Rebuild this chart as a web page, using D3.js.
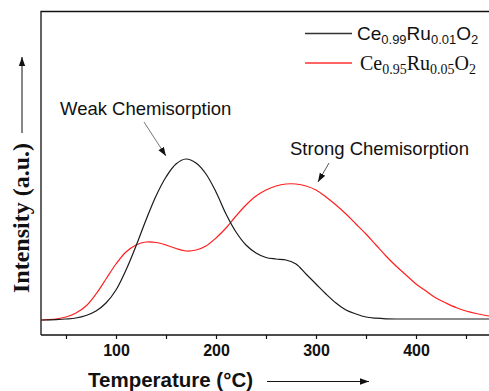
<!DOCTYPE html>
<html><head><meta charset="utf-8">
<script src="https://cdn.jsdelivr.net/npm/d3@7"></script>
<style>html,body{margin:0;padding:0;background:#fff;}svg{display:block;}</style>
</head><body>
<script>
// Temperatures (°C)
const temps = [25,30,40,50,60,70,80,90,100,110,120,130,140,150,160,170,180,190,200,210,220,230,240,250,260,270,280,290,300,310,320,330,340,350,360,370,380,390,400,410,420,430,440,450,460,470,480,490,500];
// Intensity (a.u.), Ce0.99Ru0.01O2
const seriesA = [0,0,0.4,1,2,4.5,9,17,30,50,74,100,124,143,156,161,157,146,128,106,88,75,67,62.5,61,60,56,46,36,26,17,10,6,3,1.8,1.2,1,1,1,1,1,1,1,1,1,1,1,1,1];
// Intensity (a.u.), Ce0.95Ru0.05O2
const seriesB = [0,0.3,1,3,7,14,26,41,56,68,75,78,77.5,75,71.5,69,70,74,82,92,104,115,124,130,134,136,136,134,130,123,115,106,96,86,75,64,54,45,36,29,22,17,12.5,9,6.5,4.5,3,2,1.5];
const xTicks = [50,100,150,200,250,300,350,400,450,500];
const xLabels = [100,200,300,400];

const W = 489, H = 391;
const svg = d3.select("body").append("svg").attr("width", W).attr("height", H);

const x = d3.scaleLinear().domain([25, 500]).range([41, 516]);
const y = d3.scaleLinear().domain([-15, 309]).range([335, 11]);

svg.append("defs").append("marker")
  .attr("id","ah").attr("viewBox","0 0 10 10").attr("refX",10).attr("refY",5)
  .attr("markerWidth",9).attr("markerHeight",9).attr("markerUnits","userSpaceOnUse")
  .attr("orient","auto")
  .append("path").attr("d","M0,1.5 L10,5 L0,8.5 Z").attr("fill","#111");

// frame (left and top)
svg.append("path").attr("d", `M41,335 L41,11.5 L489,11.5`).attr("fill","none").attr("stroke","#111").attr("stroke-width",1.3);

// x axis
const ax = svg.append("g").attr("transform","translate(0,335)")
  .call(d3.axisBottom(x).tickValues(xTicks).tickSize(4)
    .tickFormat(d => xLabels.includes(d) ? d : ""));
ax.select(".domain").attr("d","M41,0H489").attr("stroke","#111").attr("stroke-width",1.3);
ax.selectAll(".tick line").attr("stroke","#111").attr("stroke-width",1.2);
ax.selectAll(".tick text").attr("y",10).attr("dy","0.71em")
  .style("font-family","'Liberation Sans', Arial, sans-serif").style("font-weight","bold").style("font-size","16px").attr("fill","#111");

const line = d3.line().x((d,i)=>x(temps[i])).y(d=>y(d)).curve(d3.curveCatmullRom.alpha(0.5));
svg.append("clipPath").attr("id","pc").append("rect").attr("x",41).attr("y",11).attr("width",448).attr("height",324);
const g = svg.append("g").attr("clip-path","url(#pc)");
g.append("path").attr("d", line(seriesB)).attr("fill","none").attr("stroke","#ff1f1f").attr("stroke-width",1.2);
g.append("path").attr("d", line(seriesA)).attr("fill","none").attr("stroke","#1a1a1a").attr("stroke-width",1.2);

// legend
const sans = "'Liberation Sans', Arial, sans-serif", serif = "'Liberation Serif', 'Times New Roman', serif";
svg.append("line").attr("x1",305).attr("x2",352).attr("y1",33.5).attr("y2",33.5).attr("stroke","#333").attr("stroke-width",1.4);
svg.append("line").attr("x1",305).attr("x2",352).attr("y1",63).attr("y2",63).attr("stroke","#ff3030").attr("stroke-width",1.4);
function formula(xp, yp, parts, fam, big, small) {
  const t = svg.append("text").attr("x",xp).attr("y",yp).style("font-family",fam).attr("fill","#111").style("font-size",big+"px");
  parts.forEach(p => {
    t.append("tspan").text(p[0]).style("font-size",(p[1]?small:big)+"px")
      .attr("dy", p[1] ? 4 : (p[2] ? -4 : 0));
  });
}
formula(357, 39.5, [["Ce",0],["0.99",1],["Ru",0,1],["0.01",1],["O",0,1],["2",1]], sans, 19, 13);
formula(360, 70, [["Ce",0],["0.95",1],["Ru",0,1],["0.05",1],["O",0,1],["2",1]], serif, 20, 14);

// annotations
svg.append("text").attr("x",60).attr("y",115).text("Weak Chemisorption")
  .style("font-family",sans).style("font-size","18.5px").attr("fill","#111");
svg.append("text").attr("x",290).attr("y",155).text("Strong Chemisorption")
  .style("font-family",sans).style("font-size","18.5px").attr("fill","#111");
svg.append("line").attr("x1",144).attr("y1",122).attr("x2",166).attr("y2",156).attr("stroke","#777").attr("stroke-width",1).attr("marker-end","url(#ah)");
svg.append("line").attr("x1",329).attr("y1",163).attr("x2",318).attr("y2",182).attr("stroke","#555").attr("stroke-width",1).attr("marker-end","url(#ah)");

// axis titles
svg.append("text").attr("x",88).attr("y",387).text("Temperature (°C)")
  .style("font-family",sans).style("font-weight","bold").style("font-size","20.5px").attr("fill","#111");
svg.append("line").attr("x1",267).attr("y1",381.5).attr("x2",369).attr("y2",381.5).attr("stroke","#111").attr("stroke-width",1).attr("marker-end","url(#ah)");
svg.append("text").attr("transform","translate(29,218) rotate(-90)").attr("text-anchor","middle").text("Intensity (a.u.)")
  .style("font-family",serif).style("font-weight","bold").style("font-size","24px").attr("fill","#111");
svg.append("line").attr("x1",22).attr("y1",133).attr("x2",22).attr("y2",57).attr("stroke","#111").attr("stroke-width",1).attr("marker-end","url(#ah)");
</script>
</body></html>
